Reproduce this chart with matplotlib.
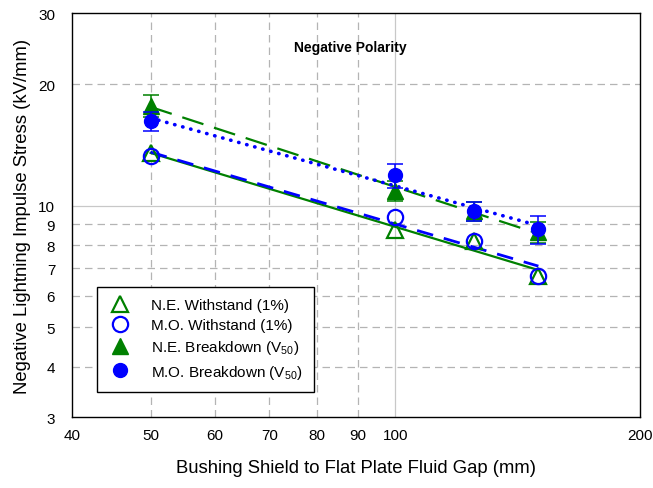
import numpy as np
import matplotlib
matplotlib.use('Agg')
import matplotlib.pyplot as plt
from matplotlib.lines import Line2D
from matplotlib.ticker import FixedLocator, FixedFormatter

plt.rcParams['font.family'] = ['Liberation Sans', 'DejaVu Sans']

# Data
gap = [50, 100, 125, 150]
ne_withstand = [13.5, 8.7, 8.2, 6.7]
mo_withstand = [13.3, 9.4, 8.2, 6.7]
ne_breakdown = [17.7, 10.9, 9.7, 8.6]
ne_breakdown_err = [1.1, 0.6, 0.5, 0.5]
mo_breakdown = [16.2, 11.9, 9.7, 8.75]
mo_breakdown_err = [0.9, 0.8, 0.5, 0.7]

green = '#008000'
blue = '#0000FF'

fig = plt.figure(figsize=(6.53, 4.89), dpi=100)
ax = fig.add_axes([0.110, 0.145, 0.870, 0.826])
ax.set_xscale('log')
ax.set_yscale('log')
ax.set_xlim(40, 200)
ax.set_ylim(3, 30)

# grid: major solid, minor dashed
for xv in [50, 60, 70, 80, 90]:
    ax.axvline(xv, color='#b4b4b4', lw=0.9, ls=(0, (6, 4)), zorder=0)
ax.axvline(100, color='#c8c8c8', lw=0.9, zorder=0)
for yv in [4, 5, 6, 7, 8, 9, 20]:
    ax.axhline(yv, color='#b4b4b4', lw=0.9, ls=(0, (6, 4)), zorder=0)
ax.axhline(10, color='#c8c8c8', lw=0.9, zorder=0)

# power-law fit lines through each series
def fit_line(y):
    p = np.polyfit(np.log10(gap), np.log10(y), 1)
    xs = np.array([gap[0], gap[-1]])
    return xs, 10 ** np.polyval(p, np.log10(xs))

xs, ys = fit_line(ne_withstand)
ax.plot(xs, ys, color=green, lw=1.6, zorder=2)
xs, ys = fit_line(mo_withstand)
ax.plot(xs, ys, color=blue, lw=2.0, ls=(0, (6, 4)), zorder=2)
xs, ys = fit_line(ne_breakdown)
ax.plot(xs, ys, color=green, lw=1.6, ls=(0, (10, 5)), zorder=2)
xs, ys = fit_line(mo_breakdown)
ax.plot(xs, ys, color=blue, lw=2.6, ls=(0, (0.1, 2.2)), dash_capstyle='round', zorder=2)

# markers
ax.errorbar(gap, ne_breakdown, yerr=ne_breakdown_err, fmt='^', color=green, ms=11,
            capsize=6, elinewidth=1.1, capthick=1.1, zorder=3)
ax.errorbar(gap, mo_breakdown, yerr=mo_breakdown_err, fmt='o', color=blue, ms=10,
            capsize=6, elinewidth=1.1, capthick=1.1, zorder=4)
ax.plot(gap, ne_withstand, '^', mfc='none', mec=green, mew=1.6, ms=11, zorder=3)
ax.plot(gap, mo_withstand, 'o', mfc='none', mec=blue, mew=1.6, ms=11, zorder=3)

# ticks
ax.xaxis.set_major_locator(FixedLocator([40, 50, 60, 70, 80, 90, 100, 200]))
ax.xaxis.set_major_formatter(FixedFormatter(['40', '50', '60', '70', '80', '90', '100', '200']))
ax.xaxis.set_minor_locator(FixedLocator([]))
ax.yaxis.set_major_locator(FixedLocator([3, 4, 5, 6, 7, 8, 9, 10, 20, 30]))
ax.yaxis.set_major_formatter(FixedFormatter(['3', '4', '5', '6', '7', '8', '9', '10', '20', '30']))
ax.yaxis.set_minor_locator(FixedLocator([]))
ax.tick_params(axis='both', which='major', length=0, labelsize=11, pad=8)
ax.tick_params(axis='y', pad=12)
for t in ax.xaxis.get_major_ticks():
    if t.get_loc() == 100:
        t.tick1line.set_markersize(6)
for t in ax.yaxis.get_major_ticks():
    if t.get_loc() == 10:
        t.tick1line.set_markersize(6)

ax.set_xlabel('Bushing Shield to Flat Plate Fluid Gap (mm)', fontsize=13.3, labelpad=12)
ax.set_ylabel('Negative Lightning Impulse Stress (kV/mm)', fontsize=13.3, labelpad=5)

ax.text(0.49, 0.916, 'Negative Polarity', transform=ax.transAxes, ha='center', va='center',
        fontsize=10, fontweight='bold')

handles = [
    Line2D([], [], ls='none', marker='^', mfc='none', mec=green, mew=1.6, ms=11),
    Line2D([], [], ls='none', marker='o', mfc='none', mec=blue, mew=1.6, ms=11),
    Line2D([], [], ls='none', marker='^', color=green, ms=11),
    Line2D([], [], ls='none', marker='o', color=blue, ms=10),
]
labels = ['N.E. Withstand (1%)', 'M.O. Withstand (1%)',
          'N.E. Breakdown (V$\\mathregular{_{50}}$)', 'M.O. Breakdown (V$\\mathregular{_{50}}$)']
leg = ax.legend(handles, labels, loc='lower left', bbox_to_anchor=(0.044, 0.062),
                borderaxespad=0, fontsize=11, frameon=True, fancybox=False,
                edgecolor='black', framealpha=1, handletextpad=1.3, labelspacing=0.4,
                borderpad=0.75, handlelength=1.5)
leg.get_frame().set_linewidth(1.0)

for s in ax.spines.values():
    s.set_linewidth(1.0)

fig.savefig('out.png', dpi=100)
